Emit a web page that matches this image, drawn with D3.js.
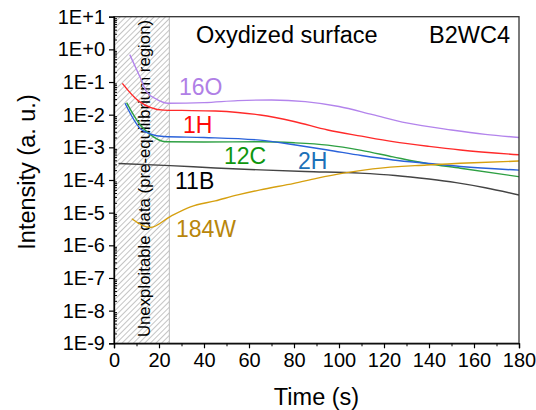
<!DOCTYPE html>
<html>
  <head>
    <meta charset="utf-8" />
    <script src="https://d3js.org/d3.v7.min.js"></script>
    <style>
      body { margin: 0; background: #fff; }
      text { font-family: "Liberation Sans", Arial, sans-serif; }
    </style>
  </head>
  <body>
    <div id="vis"></div>
    <script>
      // Data (time in s, intensity in a. u.)
      var t16O = [7, 11.5, 14.5, 19, 24, 40, 55, 70, 85, 100, 115, 130, 150, 165, 180];
      var v16O = [0.69, 0.145, 0.05, 0.0295, 0.0224, 0.0234, 0.0269, 0.0282, 0.0251, 0.0178, 0.01, 0.0056, 0.0034, 0.0025, 0.002];

      var t1H = [3.7, 11, 22, 30, 45, 55, 65, 80, 95, 110, 124, 140, 154, 180];
      var v1H = [0.091, 0.026, 0.0138, 0.0135, 0.0129, 0.0117, 0.0098, 0.0062, 0.0034, 0.0022, 0.0015, 0.00107, 0.00083, 0.00059];

      var t12C = [5.6, 11.6, 16, 23, 40, 65, 80, 95, 110, 124, 139, 154, 180];
      var v12C = [0.0234, 0.0049, 0.0025, 0.00148, 0.00145, 0.00148, 0.00138, 0.00117, 0.00081, 0.00051, 0.00032, 0.00023, 0.000126];

      var t2H = [4.9, 11.6, 16, 22, 40, 65, 80, 95, 110, 124, 140, 154, 180];
      var v2H = [0.0224, 0.0038, 0.0026, 0.00214, 0.002, 0.00166, 0.0012, 0.00083, 0.00056, 0.00041, 0.00032, 0.00026, 0.0002];

      var t11B = [2, 25, 45, 65, 85, 109, 125, 140, 152, 165, 180];
      var v11B = [0.00032, 0.000275, 0.000234, 0.000204, 0.000182, 0.000162, 0.000138, 0.000107, 0.000083, 0.000058, 0.0000347];

      var t184W = [7.9, 16, 25, 34, 45, 55, 65, 80, 90, 102, 115, 139, 160, 180];
      var v184W = [6.5e-6, 3.5e-6, 7.6e-6, 1.5e-5, 2.3e-5, 3.5e-5, 5e-5, 7.9e-5, 1.12e-4, 1.62e-4, 2.19e-4, 2.88e-4, 3.39e-4, 3.8e-4];

      var series = [
        { name: "16O", t: t16O, v: v16O, line: "#B384EC", color: "#B07FE6", lx: 179, ly: 95 },
        { name: "1H", t: t1H, v: v1H, line: "#FF2A2A", color: "#FF0A0A", lx: 183, ly: 132.5 },
        { name: "12C", t: t12C, v: v12C, line: "#2EA043", color: "#0E960E", lx: 224, ly: 163.5 },
        { name: "2H", t: t2H, v: v2H, line: "#2A62DA", color: "#1C70B8", lx: 298, ly: 168.5 },
        { name: "11B", t: t11B, v: v11B, line: "#444444", color: "#000000", lx: 175, ly: 188.5 },
        { name: "184W", t: t184W, v: v184W, line: "#D6A010", color: "#B8860B", lx: 176, ly: 236.5 }
      ];

      var xTicks = [0, 20, 40, 60, 80, 100, 120, 140, 160, 180];
      var yTicks = [1e1, 1e0, 1e-1, 1e-2, 1e-3, 1e-4, 1e-5, 1e-6, 1e-7, 1e-8, 1e-9];
      var yTickLabels = ["1E+1", "1E+0", "1E-1", "1E-2", "1E-3", "1E-4", "1E-5", "1E-6", "1E-7", "1E-8", "1E-9"];
      var hatchEnd = 24.6;

      // Layout
      var W = 536, H = 410;
      var margin = { top: 16.7, right: 17, bottom: 66.7, left: 114 };
      var width = W - margin.left - margin.right;
      var height = H - margin.top - margin.bottom;

      var svg = d3.select("#vis").append("svg")
        .attr("width", W)
        .attr("height", H);

      var defs = svg.append("defs");
      defs.append("pattern")
        .attr("id", "hatch")
        .attr("patternUnits", "userSpaceOnUse")
        .attr("width", 4)
        .attr("height", 4)
        .attr("patternTransform", "rotate(45)")
        .append("line")
        .attr("x1", 0).attr("y1", 0)
        .attr("x2", 0).attr("y2", 4)
        .attr("stroke", "#8a8a8a")
        .attr("stroke-width", 1);
      defs.append("clipPath").attr("id", "clip")
        .append("rect").attr("width", width).attr("height", height);

      var g = svg.append("g")
        .attr("transform", "translate(" + margin.left + "," + margin.top + ")");

      var x = d3.scaleLinear().domain([0, 180]).range([0, width]);
      var y = d3.scaleLog().domain([1e-9, 1e1]).range([height, 0]);

      // Hatched (pre-equilibrium) region
      g.append("rect")
        .attr("x", x(0))
        .attr("y", 0)
        .attr("width", x(hatchEnd) - x(0))
        .attr("height", height)
        .attr("fill", "url(#hatch)");
      g.append("line")
        .attr("x1", x(hatchEnd)).attr("x2", x(hatchEnd))
        .attr("y1", 0).attr("y2", height)
        .attr("stroke", "#bdbdbd")
        .attr("stroke-width", 1);

      g.append("text")
        .attr("transform", "translate(" + (x(hatchEnd / 2) + 8.5) + "," + (178.5 - margin.top) + ") rotate(-90)")
        .attr("text-anchor", "middle")
        .style("font-size", "16.8px")
        .text("Unexploitable data (pre-equilibrium region)");

      // Lines
      var line = d3.line()
        .x(function (d) { return x(d[0]); })
        .y(function (d) { return y(d[1]); })
        .curve(d3.curveMonotoneX);

      series.forEach(function (s) {
        var pts = s.t.map(function (t, i) { return [t, s.v[i]]; });
        g.append("path")
          .datum(pts)
          .attr("clip-path", "url(#clip)")
          .attr("fill", "none")
          .attr("stroke", s.line)
          .attr("stroke-width", 1.4)
          .attr("d", line);
        svg.append("text")
          .attr("x", s.lx)
          .attr("y", s.ly)
          .attr("fill", s.color)
          .style("font-size", "23px")
          .text(s.name);
      });

      // Frame (top and right)
      g.append("rect")
        .attr("width", width)
        .attr("height", height)
        .attr("fill", "none")
        .attr("stroke", "#333")
        .attr("stroke-width", 1.3);

      // X axis
      var xAxis = g.append("g")
        .attr("transform", "translate(0," + height + ")")
        .call(d3.axisBottom(x).tickValues(xTicks).tickSize(5).tickPadding(5).tickFormat(d3.format("d")));
      xAxis.selectAll(".tick text").style("font-size", "20px").attr("dy", "0.71em");
      xAxis.select(".domain").attr("stroke-width", 1.3);
      xAxis.selectAll(".tick line").attr("stroke-width", 1.2);
      g.append("g")
        .attr("transform", "translate(0," + height + ")")
        .call(d3.axisBottom(x).tickValues(d3.range(10, 180, 20)).tickSize(3).tickFormat(""))
        .call(function (a) { a.select(".domain").remove(); });

      // Y axis
      var yAxis = g.append("g")
        .call(d3.axisLeft(y).tickValues(yTicks).tickSize(5).tickPadding(4)
          .tickFormat(function (d, i) { return yTickLabels[i]; }));
      yAxis.selectAll(".tick text").style("font-size", "20px");
      yAxis.select(".domain").attr("stroke-width", 1.3);
      yAxis.selectAll(".tick line").attr("stroke-width", 1.2);

      var minor = [];
      for (var e = -9; e < 1; e++) {
        for (var m = 2; m < 10; m++) minor.push(m * Math.pow(10, e));
      }
      g.append("g")
        .call(d3.axisRight(y).tickValues(minor).tickSize(3).tickFormat(""))
        .call(function (a) { a.select(".domain").remove(); });

      // Titles
      svg.append("text")
        .attr("x", margin.left + width / 2)
        .attr("y", 405)
        .attr("text-anchor", "middle")
        .style("font-size", "23.5px")
        .text("Time (s)");
      svg.append("text")
        .attr("transform", "translate(34.5,172) rotate(-90)")
        .attr("text-anchor", "middle")
        .style("font-size", "23.5px")
        .text("Intensity (a. u.)");

      svg.append("text")
        .attr("x", 196)
        .attr("y", 42.5)
        .style("font-size", "23.5px")
        .text("Oxydized surface");
      svg.append("text")
        .attr("x", 510)
        .attr("y", 42.5)
        .attr("text-anchor", "end")
        .style("font-size", "23.5px")
        .text("B2WC4");
    </script>
  </body>
</html>
